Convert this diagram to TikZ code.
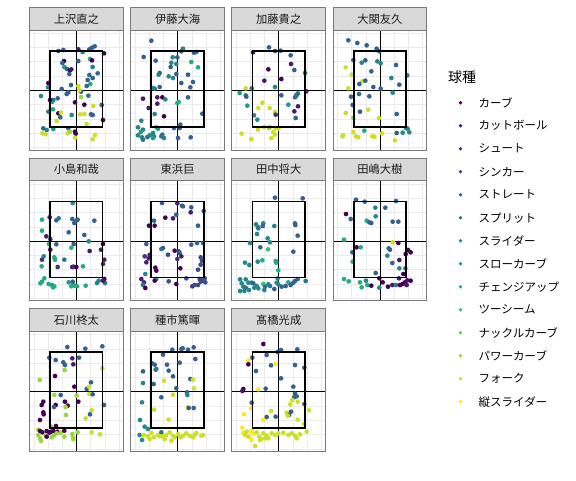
\documentclass[tikz,border=0pt]{standalone}
\usepackage{fontspec}
\newfontfamily\jp{Noto Sans CJK JP}
\definecolor{v1}{HTML}{440154}
\definecolor{v2}{HTML}{471C6D}
\definecolor{v3}{HTML}{44357F}
\definecolor{v4}{HTML}{3D4C89}
\definecolor{v5}{HTML}{34618D}
\definecolor{v6}{HTML}{2C748E}
\definecolor{v7}{HTML}{24878D}
\definecolor{v8}{HTML}{219A89}
\definecolor{v9}{HTML}{27AB81}
\definecolor{v10}{HTML}{41BD72}
\definecolor{v11}{HTML}{69CB5B}
\definecolor{v12}{HTML}{99D73D}
\definecolor{v13}{HTML}{CCE126}
\definecolor{v14}{HTML}{FDE725}
\definecolor{gridc}{HTML}{EBEBEB}
\definecolor{stripc}{HTML}{D9D9D9}
\definecolor{borderc}{HTML}{7A7A7A}
\definecolor{txtc}{HTML}{1A1A1A}
\tikzset{
  gridmaj/.style={line width=0.6pt, draw=gridc},
  gridmin/.style={line width=0.35pt, draw=gridc},
  cross/.style={line width=0.8pt, draw=black},
  zone/.style={line width=1.8pt, draw=black},
  pborder/.style={line width=0.8pt, draw=borderc},
  stripbox/.style={line width=0.8pt, draw=borderc, fill=stripc},
  striptext/.style={font=\jp\fontsize{11.3}{13}\selectfont, text=txtc, inner sep=0pt},
  legtext/.style={font=\jp\fontsize{11.5}{13}\selectfont, text=black, inner sep=0pt, anchor=west},
}
\newcommand\panelbg[4]{%
  \fill[white] (#1,#2) rectangle ++(93.7,120);
  \foreach \k in {-3,-1,1,3} \draw[gridmin] (#1+46.9+\k*14.2,#2) -- ++(0,120);
  \foreach \k in {-2,0,2} \draw[gridmaj] (#1+46.9+\k*14.2,#2) -- ++(0,120);
  \foreach \k in {-3,-1,1,3} \draw[gridmin] (#1,#2+60.3+\k*14.3) -- ++(93.7,0);
  \foreach \k in {-4,-2,0,2,4} \draw[gridmaj] (#1,#2+60.3+\k*14.3) -- ++(93.7,0);
  \draw[cross] (#1+46.9,#2) -- ++(0,120);
  \draw[cross] (#1,#2+60.3) -- ++(93.7,0);
  \draw[stripbox] (#1,#2-22.5) rectangle ++(93.7,22.5);
  \node[striptext] (#4) at (#1+46.9,#2-11.25) {#3};
}
\newcommand\panelfg[2]{%
  \draw[zone] (#1+20.6,#2+20.7) rectangle (#1+72.9,#2+96.8);
  \draw[pborder] (#1,#2) rectangle ++(93.7,120);
}
\newcommand\pts[5]{% x0,y0 of panel, crop origin x,y, list
  \begin{scope}
    \clip (#1,#2) rectangle ++(93.7,120);
    \foreach \px/\py/\cl in {#5} {\fill[\cl] (#3+\px/3,#4+\py/3) circle[radius=2.35];}
  \end{scope}
}
\begin{document}
\begin{tikzpicture}[x=1pt,y=-1pt]
\useasboundingbox (0,0) rectangle (576,480);
\fill[white] (0,0) rectangle (576,480);

% ---------------- Row 1
\panelbg{29.5}{30}{上沢直之}{s1}
\pts{29.5}{30}{25}{5}{100/138/v5,115/135/v5,160/133/v2,173/141/v7,193/133/v5,201/128/v5,209/124/v5,237/145/v1,160/168/v5,195/162/v9,201/166/v1,117/168/v1,112/174/v5,203/186/v7,118/186/v8,126/192/v5,135/196/v1,139/193/v2,133/207/v5,218/205/v5,193/210/v6,203/219/v5,188/225/v5,196/237/v9,185/243/v5,70/234/v1,69/247/v7,160/243/v13,138/240/v5,110/252/v5,168/260/v5,190/272/v6,130/262/v5,125/267/v5,163/256/v13,48/273/v7,98/280/v5,85/285/v5,82/290/v8,168/276/v12,150/292/v1,178/299/v1,205/303/v13,84/313/v9,70/320/v7,100/325/v1,108/323/v13,140/330/v7,165/328/v13,178/327/v13,198/328/v5,203/330/v5,106/337/v5,95/348/v13,234/345/v1,185/357/v13,55/370/v5,65/375/v7,85/372/v8,130/370/v5,150/380/v1,152/386/v1,128/385/v13,62/388/v13,52/385/v13,135/380/v12,210/390/v13,203/403/v13,150/398/v13,230/300/v5,75/285/v1}
\panelfg{29.5}{30}

\panelbg{130.7}{30}{伊藤大海}{s2}
\pts{130.7}{30}{128}{28}{70/38/v5,47/87/v5,165/62/v7,160/70/v5,198/74/v5,205/72/v5,83/98/v5,134/88/v7,148/88/v5,190/102/v9,210/118/v9,130/104/v7,145/108/v7,128/117/v5,95/135/v5,92/140/v7,122/145/v7,135/150/v7,145/138/v5,180/140/v5,160/165/v5,195/162/v5,187/178/v5,95/177/v5,80/182/v5,75/180/v7,45/212/v2,88/208/v2,103/208/v1,112/214/v7,88/227/v2,62/240/v2,148/225/v9,152/222/v9,180/208/v5,80/258/v7,108/265/v1,40/278/v7,223/257/v5,30/298/v7,45/305/v7,85/298/v10,90/302/v8,138/300/v5,157/290/v5,155/300/v5,30/322/v7,42/328/v7,45/335/v6,58/327/v6,78/325/v7,75/330/v8,103/320/v6,108/330/v7,150/330/v5,188/328/v5,38/312/v8,65/322/v7,75/315/v7,100/325/v6}
\panelfg{130.7}{30}

\panelbg{231.8}{30}{加藤貴之}{s3}
\pts{231.8}{30}{229}{28}{120/58/v5,72/73/v2,138/69/v5,155/68/v5,185/82/v5,186/108/v2,196/126/v5,228/135/v7,118/124/v1,106/158/v2,157/153/v1,138/177/v7,50/181/v13,68/181/v7,32/195/v8,50/202/v7,52/206/v5,157/202/v5,207/196/v7,203/200/v5,232/190/v2,198/208/v6,100/224/v13,88/240/v13,122/240/v13,55/233/v8,178/230/v8,207/235/v2,196/250/v2,138/252/v13,140/260/v3,75/262/v7,85/275/v7,200/270/v5,87/305/v13,105/297/v13,123/297/v13,140/300/v13,148/302/v13,133/312/v13,138/320/v13,127/330/v13,38/317/v13,67/333/v13,120/300/v12,202/203/v6}
\panelfg{231.8}{30}

\panelbg{333}{30}{大関友久}{s4}
\pts{333}{30}{330}{28}{55/37/v5,82/45/v5,110/52/v5,140/62/v5,148/70/v5,70/96/v5,95/104/v7,106/97/v5,142/100/v7,152/106/v7,198/111/v5,47/118/v13,124/130/v5,65/140/v13,184/150/v7,232/142/v7,97/160/v13,106/158/v5,88/168/v5,130/177/v5,152/182/v5,208/170/v5,55/181/v13,188/194/v7,63/206/v5,87/198/v5,118/205/v5,68/231/v5,115/245/v13,90/251/v5,47/255/v13,147/270/v13,200/258/v5,70/270/v12,233/302/v7,238/313/v7,218/314/v7,200/315/v5,103/308/v9,70/312/v13,40/322/v13,37/325/v13,78/325/v13,85/328/v13,127/325/v13,133/326/v13,156/316/v13,195/337/v13,228/300/v6}
\panelfg{333}{30}

% ---------------- Row 2
\panelbg{29.5}{180.7}{小島和哉}{s5}
\pts{29.5}{180.7}{27}{179}{137/72/v7,45/122/v9,68/115/v2,88/124/v5,95/118/v6,136/120/v5,148/125/v5,152/122/v5,142/132/v5,202/125/v5,45/155/v9,125/160/v5,172/168/v5,58/172/v2,70/180/v3,185/187/v7,66/195/v9,88/196/v5,140/195/v5,133/206/v9,70/212/v2,188/216/v2,228/195/v1,222/212/v2,50/232/v7,45/242/v3,82/235/v9,84/242/v9,112/242/v6,232/242/v2,228/255/v3,44/262/v9,92/264/v3,136/264/v1,140/263/v3,148/264/v1,168/262/v9,52/298/v9,40/313/v9,45/308/v9,65/315/v9,75/318/v8,78/325/v9,82/322/v9,125/310/v8,133/322/v9,138/318/v9,143/320/v9,150/322/v9,137/308/v5,176/320/v9,210/312/v7,215/305/v7,232/300/v1,234/312/v6,228/305/v2}
\panelfg{29.5}{180.7}

\panelbg{130.7}{180.7}{東浜巨}{s6}
\pts{130.7}{180.7}{128}{179}{102/72/v5,148/73/v2,162/80/v5,165/82/v5,190/85/v5,188/100/v2,227/96/v5,145/107/v5,112/116/v1,135/118/v2,78/125/v5,63/140/v1,80/140/v1,210/140/v5,55/195/v5,190/197/v5,207/192/v5,225/192/v5,100/210/v7,105/207/v5,140/215/v1,152/217/v4,155/222/v5,120/227/v4,160/232/v2,148/240/v3,218/235/v4,222/245/v4,218/257/v4,210/272/v4,157/268/v1,50/232/v3,62/238/v2,55/250/v2,65/228/v2,82/266/v1,85/275/v1,52/285/v7,40/300/v2,48/310/v3,45/318/v6,52/327/v1,85/300/v7,80/305/v1,122/307/v4,145/315/v1,175/298/v4,193/322/v3,200/318/v4,210/318/v4,215/300/v4,225/305/v4,230/298/v4,232/310/v4,218/308/v4}
\panelfg{130.7}{180.7}

\panelbg{231.8}{180.7}{田中将大}{s7}
\pts{231.8}{180.7}{225}{155}{150/128/v5,233/130/v5,93/208/v7,98/215/v7,100/220/v6,115/205/v7,113/213/v5,148/213/v7,210/205/v5,211/210/v5,96/237/v7,218/242/v5,128/250/v7,135/262/v7,75/264/v7,106/277/v5,129/283/v10,205/290/v5,60/323/v7,73/330/v7,98/320/v7,112/316/v9,152/318/v9,154/323/v9,160/346/v9,158/370/v7,45/373/v7,62/373/v7,70/383/v7,80/383/v7,50/385/v7,55/395/v7,45/408/v7,58/408/v7,72/405/v7,85/385/v5,95/393/v7,100/400/v7,115/387/v10,118/405/v7,130/388/v7,135/393/v6,148/402/v5,155/383/v7,160/388/v7,170/395/v5,190/382/v9,197/390/v5,205/383/v5,210/378/v5,218/372/v5,242/378/v6,182/393/v5,120/395/v6,88/398/v7,62/398/v6}
\panelfg{231.8}{180.7}

\panelbg{333}{180.7}{田嶋大樹}{s8}
\pts{333}{180.7}{330}{179}{78/62/v5,104/68/v5,198/66/v5,48/105/v1,62/120/v5,136/86/v7,166/86/v5,137/112/v7,110/125/v9,118/130/v5,124/132/v5,188/128/v5,205/128/v5,42/182/v9,188/190/v13,205/192/v1,80/205/v1,92/205/v9,67/220/v5,176/208/v5,180/212/v5,234/213/v1,242/220/v1,227/225/v1,172/230/v7,208/243/v2,187/252/v5,68/248/v9,208/268/v7,226/268/v7,220/285/v1,137/282/v5,148/298/v1,158/310/v1,42/300/v9,56/307/v9,90/310/v9,108/305/v7,112/318/v9,95/325/v9,124/320/v1,148/326/v7,174/323/v1,187/318/v2,198/318/v6,210/318/v1,218/315/v1,225/310/v1,232/304/v2,242/305/v1,207/298/v2,230/318/v2}
\panelfg{333}{180.7}

% ---------------- Row 3
\panelbg{29.5}{331.3}{石川柊太}{s9}
\pts{29.5}{331.3}{25}{305}{127/126/v5,181/131/v5,232/124/v5,73/158/v5,92/165/v5,115/172/v5,120/180/v5,142/160/v2,145/178/v2,162/158/v5,119/195/v12,232/190/v13,90/213/v1,44/225/v12,148/245/v1,185/252/v5,192/245/v13,198/232/v5,88/270/v12,107/270/v5,155/272/v12,193/267/v13,203/268/v5,55/290/v1,50/300/v1,92/300/v1,87/306/v5,120/290/v1,128/302/v1,122/306/v12,160/290/v1,237/300/v5,55/322/v1,56/328/v1,45/345/v1,123/330/v12,200/316/v13,195/328/v5,182/340/v13,93/363/v1,78/365/v12,40/374/v12,45/378/v1,52/382/v1,65/378/v1,73/383/v1,85/378/v1,97/380/v1,107/383/v12,118/377/v1,40/390/v12,45/400/v12,48/408/v12,62/392/v12,80/397/v12,88/390/v12,95/385/v12,118/395/v12,142/387/v12,144/398/v12,145/402/v12,158/382/v12,200/382/v13,225/388/v13,78/380/v1,65/395/v1}
\panelfg{29.5}{331.3}

\panelbg{130.7}{331.3}{種市篤暉}{s10}
\pts{130.7}{331.3}{128}{329}{133/62/v5,160/60/v5,164/58/v5,180/62/v5,197/55/v5,105/77/v5,72/103/v5,80/107/v5,85/120/v7,83/122/v6,117/107/v5,155/101/v5,202/90/v5,45/127/v5,122/125/v5,135/142/v5,45/162/v7,108/155/v13,187/150/v5,195/152/v13,77/165/v5,145/178/v5,198/178/v13,177/190/v5,178/198/v7,135/197/v13,100/205/v5,42/220/v7,180/235/v13,182/237/v5,197/237/v5,78/242/v13,122/272/v13,36/273/v7,50/293/v7,60/300/v7,35/318/v7,42/333/v7,47/318/v13,60/322/v13,70/312/v13,78/325/v13,90/318/v13,100/310/v6,105/322/v13,115/318/v13,125/310/v13,135/320/v13,140/325/v13,150/315/v13,158/325/v13,165/320/v13,175/313/v13,185/320/v13,195/325/v13,205/312/v13,220/320/v13,225/318/v13,95/322/v13,65/330/v13,130/335/v13,110/330/v13,200/318/v13}
\panelfg{130.7}{331.3}

\panelbg{231.8}{331.3}{髙橋光成}{s11}
\pts{231.8}{331.3}{225}{305}{115/117/v1,168/135/v5,158/141/v5,217/133/v5,82/158/v5,125/150/v5,70/167/v14,70/178/v1,138/181/v5,152/177/v14,210/180/v5,238/188/v5,93/198/v5,168/220/v5,55/252/v1,52/258/v2,100/253/v14,122/251/v5,205/245/v5,210/266/v5,215/274/v5,207/277/v5,80/293/v5,202/285/v13,218/290/v13,196/298/v13,238/297/v5,78/310/v14,57/328/v14,138/318/v13,185/323/v13,198/320/v5,192/330/v5,252/316/v13,125/336/v5,152/335/v5,115/345/v14,188/332/v13,218/344/v13,52/368/v14,55/383/v14,65/380/v13,70/395/v13,80/378/v14,85/385/v14,95/382/v13,103/395/v13,108/402/v13,115/385/v13,125/392/v13,130/400/v13,140/385/v13,150/390/v13,160/385/v13,175/383/v13,190/390/v13,200/385/v13,210/392/v13,215/400/v13,225/388/v13,245/380/v13,90/423/v13,105/405/v13,120/400/v13,80/405/v14,60/390/v13,237/357/v13}
\panelfg{231.8}{331.3}

% ---------------- Legend
\node[font=\jp\fontsize{14}{16}\selectfont, anchor=west, inner sep=0pt] (legtitle) at (448,77) {球種};
\foreach \lab/\cl [count=\i from 0] in {カーブ/v1,カットボール/v2,シュート/v3,シンカー/v4,ストレート/v5,スプリット/v6,スライダー/v7,スローカーブ/v8,チェンジアップ/v9,ツーシーム/v10,ナックルカーブ/v11,パワーカーブ/v12,フォーク/v13,縦スライダー/v14} {
  \fill[\cl] (460.5,102.7+23*\i) circle[radius=1.9];
  \node[legtext] (leg\i) at (478.5,102.7+23*\i) {\lab};
}
\end{tikzpicture}
\end{document}
